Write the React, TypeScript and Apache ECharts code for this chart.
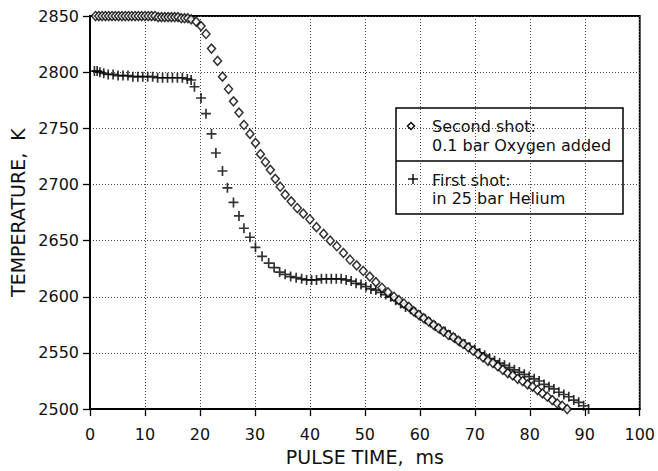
import React, { useEffect, useRef } from "react";
import * as echarts from "echarts";

// Second shot: 0.1 bar Oxygen added (diamonds)
const oxygenTime = [
  1.0, 1.6, 2.2, 2.8, 3.4, 4.0, 4.6, 5.2, 5.8, 6.4, 7.0, 7.6, 8.2, 8.8, 9.4, 10.0, 10.6, 11.2, 11.8, 12.4,
  13.0, 13.6, 14.2, 14.8, 15.4, 16.0, 16.6, 17.2, 17.8, 18.4, 19.3, 20.2, 21.1, 22.1, 23.2, 24.1, 25.2,
  26.1, 27.1, 28.0, 29.1, 30.1, 31.0, 31.9, 32.8, 33.7, 34.6, 35.5, 36.6, 37.7, 38.8, 40.0, 41.2, 42.5,
  43.7, 44.9, 46.1, 47.3, 48.5, 49.7, 50.9, 52.0, 53.1, 54.2, 55.3, 56.2, 57.1, 58.0, 58.9, 59.8, 60.7,
  61.6, 62.5, 63.4, 64.3, 65.2, 66.1, 67.0, 67.9, 68.8, 69.7, 70.6, 71.5, 72.4, 73.3, 74.2, 75.1, 76.0,
  76.9, 77.8, 78.7, 79.6, 80.5, 81.4, 82.3, 83.2, 84.1, 85.0, 85.9, 86.8,
];
const oxygenTemp = [
  2850, 2850, 2850, 2850, 2850, 2850, 2850, 2850, 2850, 2850, 2850, 2850, 2850, 2850, 2850, 2850, 2850, 2850, 2850, 2849,
  2849, 2849, 2849, 2849, 2849, 2849, 2848, 2848, 2848, 2847, 2845, 2841, 2834, 2821, 2810, 2796, 2785,
  2774, 2764, 2753, 2745, 2737, 2727, 2720, 2713, 2705, 2698, 2691, 2685, 2679, 2674, 2669, 2662, 2656,
  2650, 2645, 2639, 2633, 2628, 2623, 2618, 2613, 2608, 2604, 2600, 2597, 2594, 2591, 2587, 2584, 2581,
  2578, 2575, 2572, 2569, 2566, 2564, 2561, 2558, 2555, 2552, 2549, 2546, 2543, 2541, 2538, 2535, 2532,
  2530, 2527, 2525, 2522, 2520, 2517, 2514, 2511, 2508, 2505, 2503, 2500,
];

// First shot: in 25 bar Helium (crosses)
const heliumTime = [
  0.8, 1.3, 1.8, 2.5, 3.3, 4.2, 5.1, 6.0, 6.9, 7.8, 8.7, 9.6, 10.5, 11.4, 12.3, 13.2, 14.1, 15.0, 15.9,
  16.8, 17.7, 18.4, 19.0, 20.2, 21.1, 22.1, 22.9, 24.1, 25.0, 26.1, 27.1, 28.0, 29.1, 30.1, 31.3, 32.5,
  33.5, 34.5, 35.5, 36.5, 37.5, 38.5, 39.4, 40.3, 41.2, 42.1, 43.0, 43.9, 44.8, 45.7, 46.6, 47.5, 48.4,
  49.3, 50.2, 51.1, 52.0, 52.9, 53.8, 54.7, 55.6, 56.5, 57.4, 58.3, 59.2, 60.1, 61.0, 61.9, 62.8, 63.7,
  64.6, 65.5, 66.4, 67.3, 68.2, 69.1, 70.0, 70.9, 71.8, 72.7, 73.6, 74.5, 75.4, 76.3, 77.2, 78.1, 79.0,
  79.9, 80.8, 81.7, 82.6, 83.5, 84.4, 85.3, 86.2, 87.1, 88.0, 88.9, 89.8, 90.7,
];
const heliumTemp = [
  2801, 2801, 2800, 2799, 2798, 2798, 2797, 2797, 2797, 2796, 2796, 2796, 2796, 2796, 2795, 2795, 2795, 2795, 2795,
  2795, 2794, 2793, 2787, 2777, 2763, 2745, 2728, 2712, 2697, 2684, 2672, 2661, 2653, 2644, 2636, 2630,
  2626, 2622, 2620, 2618, 2617, 2616, 2615, 2615, 2615, 2616, 2616, 2616, 2616, 2616, 2615, 2614, 2612,
  2611, 2609, 2607, 2606, 2604, 2602, 2600, 2597, 2594, 2591, 2589, 2586, 2583, 2580, 2577, 2574, 2571,
  2569, 2566, 2563, 2560, 2558, 2555, 2553, 2550, 2548, 2545, 2543, 2541, 2539, 2537, 2535, 2533, 2531,
  2529, 2527, 2525, 2522, 2520, 2518, 2515, 2513, 2511, 2508, 2506, 2503, 2500,
];

const xTicks = [0, 10, 20, 30, 40, 50, 60, 70, 80, 90, 100];
const yTicks = [2500, 2550, 2600, 2650, 2700, 2750, 2800, 2850];

const seriesNames = ["Second shot:", "First shot:"];
const seriesSub = ["0.1 bar Oxygen added", "in 25 bar Helium"];

const FONT = "DejaVu Sans";
const PLUS = "path://M0.415,0H0.585V0.415H1V0.585H0.585V1H0.415V0.585H0V0.415H0.415Z";

export default function App() {
  const ref = useRef<HTMLDivElement>(null);
  useEffect(() => {
    if (!ref.current) return;
    const chart = echarts.init(ref.current, null, { renderer: "svg" });
    const oxy = oxygenTime.map((t, i) => [t, oxygenTemp[i]]);
    const hel = heliumTime.map((t, i) => [t, heliumTemp[i]]);
    chart.setOption({
      animation: false,
      backgroundColor: "#fff",
      grid: {
        left: 84,
        right: 17,
        top: 16,
        bottom: 58,
        show: true,
        borderColor: "#000",
        borderWidth: 1.8,
        backgroundColor: "transparent",
      },
      xAxis: {
        type: "value",
        min: xTicks[0],
        max: xTicks[xTicks.length - 1],
        interval: 10,
        name: "PULSE TIME,  ms",
        nameLocation: "middle",
        nameGap: 33,
        nameTextStyle: { fontFamily: FONT, fontSize: 19, color: "#111" },
        axisLine: { show: true, lineStyle: { color: "#000", width: 1.8 } },
        axisTick: { show: true, length: 7, lineStyle: { color: "#000", width: 1.3 } },
        axisLabel: { margin: 17, fontFamily: FONT, fontSize: 16, color: "#111", formatter: (v: number) => String(v) },
        splitLine: { show: true, lineStyle: { color: "#444", width: 1, type: [1, 2] } },
      },
      yAxis: {
        type: "value",
        min: yTicks[0],
        max: yTicks[yTicks.length - 1],
        interval: 50,
        name: "TEMPERATURE,  K",
        nameLocation: "middle",
        nameGap: 63,
        nameTextStyle: { fontFamily: FONT, fontSize: 19, color: "#111" },
        axisLine: { show: true, lineStyle: { color: "#000", width: 1.8 } },
        axisTick: { show: true, length: 7, lineStyle: { color: "#000", width: 1.3 } },
        axisLabel: { margin: 11, fontFamily: FONT, fontSize: 16, color: "#111", formatter: (v: number) => String(v) },
        splitLine: { show: true, lineStyle: { color: "#444", width: 1, type: [1, 2] } },
      },
      series: [
        {
          name: seriesNames[1],
          type: "scatter",
          data: hel,
          symbol: PLUS,
          symbolSize: 10,
          itemStyle: { color: "#000" },
          z: 3,
        },
        {
          name: seriesNames[0],
          type: "scatter",
          data: oxy,
          symbol: "diamond",
          symbolSize: [8, 9],
          itemStyle: { color: "#fff", borderColor: "#000", borderWidth: 1.5 },
          z: 4,
        },
      ],
      graphic: [
        {
          type: "group",
          z: 100,
          children: [
            {
              type: "rect",
              shape: { x: 396, y: 108, width: 227, height: 106 },
              style: { fill: "#fff", stroke: "#000", lineWidth: 1.5 },
            },
            {
              type: "line",
              shape: { x1: 396, y1: 161, x2: 623, y2: 161 },
              style: { stroke: "#000", lineWidth: 1.5 },
            },
            {
              type: "polygon",
              shape: { points: [[411, 122.5], [414.5, 126], [411, 129.5], [407.5, 126]] },
              style: { fill: "#fff", stroke: "#000", lineWidth: 1.4 },
            },
            {
              type: "text",
              x: 432,
              y: 126,
              style: { text: seriesNames[0], font: `16px "${FONT}"`, fill: "#111", verticalAlign: "middle" },
            },
            {
              type: "text",
              x: 432,
              y: 145,
              style: { text: seriesSub[0], font: `16px "${FONT}"`, fill: "#111", verticalAlign: "middle" },
            },
            {
              type: "line",
              shape: { x1: 408, y1: 179, x2: 418, y2: 179 },
              style: { stroke: "#000", lineWidth: 1.4 },
            },
            {
              type: "line",
              shape: { x1: 413, y1: 174, x2: 413, y2: 184 },
              style: { stroke: "#000", lineWidth: 1.4 },
            },
            {
              type: "text",
              x: 432,
              y: 180,
              style: { text: seriesNames[1], font: `16px "${FONT}"`, fill: "#111", verticalAlign: "middle" },
            },
            {
              type: "text",
              x: 432,
              y: 198,
              style: { text: seriesSub[1], font: `16px "${FONT}"`, fill: "#111", verticalAlign: "middle" },
            },
          ],
        },
      ],
    });
    return () => chart.dispose();
  }, []);
  return (
    <div
      ref={ref}
      style={{ position: "fixed", left: 0, top: 0, width: 658, height: 471, background: "#fff" }}
    />
  );
}
